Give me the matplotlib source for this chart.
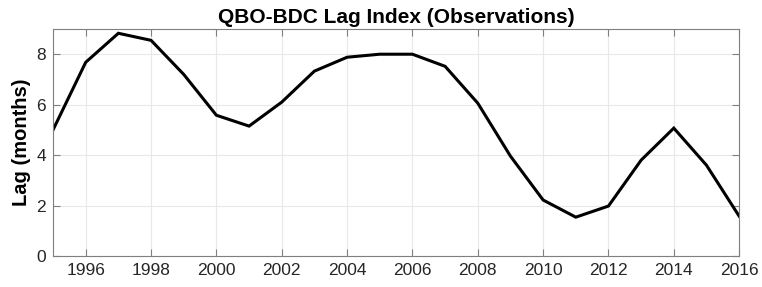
import matplotlib
matplotlib.use("Agg")
import matplotlib.pyplot as plt

# lag index per year
years = [1995, 1996, 1997, 1998, 1999, 2000, 2001, 2002, 2003, 2004, 2005,
         2006, 2007, 2008, 2009, 2010, 2011, 2012, 2013, 2014, 2015, 2016]
lag = [5.0, 7.68, 8.83, 8.55, 7.2, 5.58, 5.15, 6.1, 7.33, 7.88, 8.0,
       8.0, 7.52, 6.06, 3.96, 2.22, 1.54, 1.98, 3.8, 5.07, 3.6, 1.58]
xticks = list(range(1996, 2017, 2))
yticks = [0, 2, 4, 6, 8]

plt.rcParams['font.family'] = ['Liberation Sans', 'DejaVu Sans']

fig = plt.figure(figsize=(7.62, 2.87), dpi=100)
ax = fig.add_axes([0.0696, 0.108, 0.9004, 0.791])

ax.plot(years, lag, color='black', lw=2.2, solid_joinstyle='miter')

ax.set_xlim(1995, 2016)
ax.set_ylim(0, 9)
ax.set_xticks(xticks)
ax.set_yticks(yticks)
ax.grid(True, color='#e8e8e8', lw=0.8)
ax.set_axisbelow(True)
ax.tick_params(direction='in', top=True, right=True, length=5, width=0.8,
               color='#7f7f7f', labelsize=12.5, labelcolor='#262626', pad=5)
for s in ax.spines.values():
    s.set_color('#7f7f7f')
    s.set_linewidth(0.8)

ax.set_ylabel('Lag (months)', fontsize=14.5, fontweight='bold', labelpad=4)
ax.set_title('QBO-BDC Lag Index (Observations)', fontsize=15,
             fontweight='bold', pad=4)

fig.savefig('out.png', dpi=100)
